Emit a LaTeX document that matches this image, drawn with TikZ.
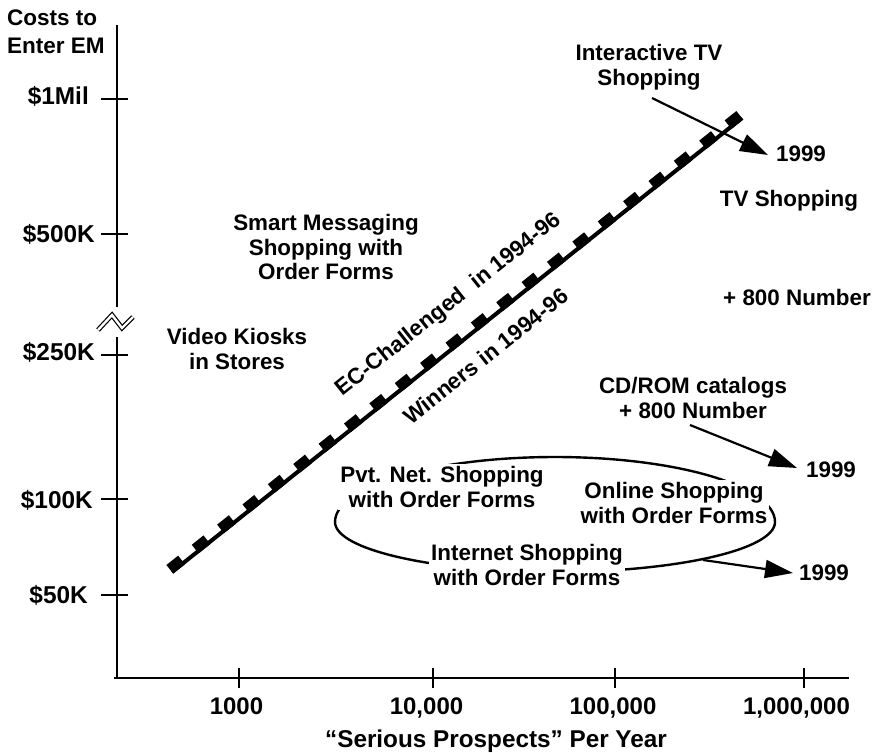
\documentclass[tikz,border=0pt]{standalone}
\usepackage{fontspec}
\setmainfont{Liberation Sans}
\usetikzlibrary{arrows.meta}
\begin{document}
\begin{tikzpicture}[x=1pt,y=-1pt,
  every node/.style={font=\bfseries\fontsize{22.4}{24.6}\selectfont, inner sep=0pt, align=center},
  axisline/.style={line width=2.6pt},
  ticklbl/.style={font=\bfseries\fontsize{24.4}{28}\selectfont},
  pointer/.style={line width=2.2pt, -{Triangle[length=28pt,width=18pt]}},
  loopline/.style={line width=2.4pt},
  cover/.style={fill=white, inner sep=2pt},
]
\useasboundingbox (0,0) rectangle (882,752);

% vertical axis with a break, horizontal axis
\coordinate (ytop) at (117,25);
\coordinate (ybrk1) at (117,307);
\coordinate (ybrk2) at (117,337);
\coordinate (orig) at (117,678);
\coordinate (xstart) at (114,678);
\coordinate (xend) at (849,678);
\draw[axisline] (ytop) -- (ybrk1);
\draw[axisline] (ybrk2) -- (orig);
\draw[axisline] (xstart) -- (xend);
\draw[line width=1.2pt, double, double distance=2.4pt] (98,330) -- (112,315) -- (122,328) -- (133,317);

\node[anchor=north west, align=left, font=\bfseries\fontsize{22.5}{28}\selectfont] (ytitle) at (7,9.5) {Costs to\\Enter EM};

% cost ticks
\foreach \y/\t/\e/\ly [count=\i] in {99/{\$1Mil}/89/96, 234/{\$500K}/95/234, 355/{\$250K}/95/352, 499/{\$100K}/93/500, 595/{\$50K}/88/595}{
  \draw[axisline] (101,\y) -- (128,\y);
  \node[ticklbl, anchor=east] (ylab\i) at (\e,\ly) {\t};
}

% prospect ticks
\foreach \x/\lx/\t [count=\i] in {239/236.5/1000, 433/426.5/{10,000}, 615/613/{100,000}, 804/796.5/{1,000,000}}{
  \draw[axisline] (\x,668) -- (\x,688);
  \node[font=\bfseries\fontsize{24}{28}\selectfont, anchor=base] (xlab\i) at (\lx,714) {\t};
}
\node[font=\bfseries\fontsize{24.3}{28}\selectfont, anchor=base] (xtitle) at (496,747) {``Serious Prospects'' Per Year};

% boundary between the two groups: solid rule with square teeth on its upper side
\coordinate (L0) at (172,572);
\coordinate (L1) at (742,118);
\draw[line width=4pt] (L0) -- (L1);
\draw[line width=11pt, dash pattern=on 15pt off 17.44pt] ([shift={(-2.2,-2.7)}]L0) -- ([shift={(-2.2,-2.7)}]L1);
\node[rotate=38.5, anchor=base] (ecl) at (452.4,309.6) {EC-Challenged\ \ in 1994-96};
\node[rotate=38.5, anchor=base] (win) at (490.6,362.2) {Winners in 1994-96};

% left side labels
\node (smart) at (326,247) {Smart Messaging\\Shopping with\\Order Forms};
\node (kiosk) at (237,349) {Video Kiosks\\in Stores};

% right side labels
\node (itv) at (649,67) {Interactive TV\\Shopping};
\node (tvyear) at (801,154) {1999};
\node (tvshop) at (789,201) {TV Shopping};
\node (num800) at (797,297) {+ 800 Number};
\node (cdrom) at (693,398) {CD/ROM catalogs\\+ 800 Number};
\node (cdyear) at (831,470) {1999};

% online shopping loop
\draw[loopline] (335,522) arc[start angle=180, end angle=360, x radius=220, y radius=65]
                arc[start angle=0, end angle=180, x radius=220, y radius=50];
\node[cover] (pvt) at (442,487) {Pvt. Net. Shopping\\with Order Forms};
\node[cover] (online) at (674,503) {Online Shopping\\with Order Forms};
\node[cover] (inet) at (527,565) {Internet Shopping\\with Order Forms};
\node (netyear) at (824,573) {1999};

% migration arrows
\coordinate (tvfrom) at (652,98);
\coordinate (tvto) at (768,155);
\coordinate (cdfrom) at (690,425);
\coordinate (cdto) at (797,468);
\coordinate (netfrom) at (703,560);
\coordinate (netto) at (793,573);
\draw[pointer] (tvfrom) -- (tvto);
\draw[pointer] (cdfrom) -- (cdto);
\draw[pointer] (netfrom) -- (netto);
\end{tikzpicture}
\end{document}
